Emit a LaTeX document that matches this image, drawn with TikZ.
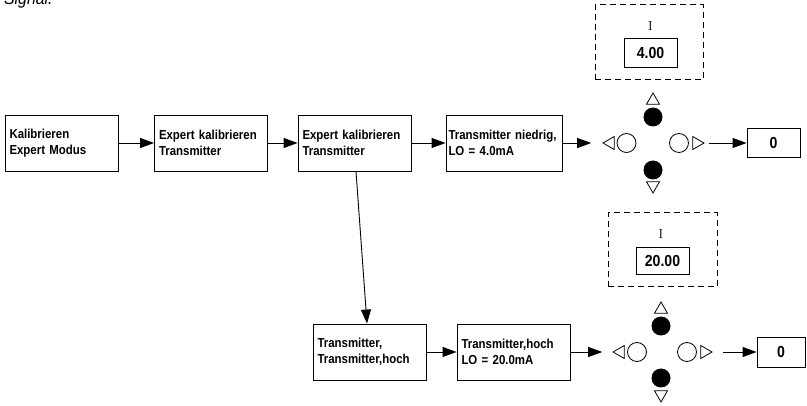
\documentclass[tikz,border=0pt]{standalone}
\usepackage{fontspec}
\newfontfamily\cond[FakeStretch=0.88]{Liberation Sans}
\usetikzlibrary{arrows.meta,shapes.geometric,calc}
\begin{document}
\begin{tikzpicture}[x=1pt,y=-1pt,
  line width=0.9pt,
  stepbox/.style={draw, line width=0.9pt, minimum height=56pt, inner xsep=4.5pt, inner ysep=0pt,
    text width=104pt, align=left, font=\cond\bfseries\fontsize{13}{16}\selectfont},
  valbox/.style={draw, line width=0.9pt, inner sep=0pt, font=\cond\bfseries\fontsize{16}{16}\selectfont},
  dashbox/.style={draw, line width=1pt, dash pattern=on 6pt off 4pt, inner sep=0pt},
  symb/.style={inner sep=0pt, font=\rmfamily\fontsize{13}{13}\selectfont},
  dot/.style={circle, fill=black, minimum size=19pt, inner sep=0pt},
  ring/.style={circle, draw, line width=0.8pt, minimum size=19pt, inner sep=0pt},
  tri/.style={regular polygon, regular polygon sides=3, draw, line width=0.8pt, minimum size=15pt, inner sep=0pt},
  arr/.style={-{Triangle[length=14pt,width=10pt]}, line width=0.9pt}]
\useasboundingbox (0,0) rectangle (807,406);

% caption fragment at the top edge
\node[font=\cond\itshape\fontsize{18}{18}\selectfont, anchor=base east, inner sep=0pt] (sig) at (53,4.5) {Signal.};

% upper row of steps
\node[stepbox] (b1) at (61.5,143) {Kalibrieren\\Expert Modus};
\node[stepbox] (b2) at (211,143) {Expert kalibrieren\\Transmitter};
\node[stepbox] (b3) at (354.5,143) {Expert kalibrieren\\Transmitter};
\node[stepbox, text width=111pt, inner xsep=2.5pt] (b4) at (504,143) {Transmitter niedrig,\\LO = 4.0mA};

% lower row of steps
\node[stepbox] (b5) at (369.5,352) {Transmitter,\\Transmitter,hoch};
\node[stepbox] (b6) at (513.5,352) {Transmitter,hoch\\LO = 20.0mA};

% display for the low value
\node[dashbox, minimum width=108pt, minimum height=75pt] (d1) at (649,42.5) {};
\node[symb] (d1i) at (650.5,26.5) {I};
\node[valbox, minimum width=53pt, minimum height=29pt] (d1v) at (650.5,52.5) {4.00};

% key pad for the low value
\node[tri, shape border rotate=0] (k1u) at (653,100.5) {};
\node[dot] (k1ud) at (653,117) {};
\node[tri, shape border rotate=90] (k1l) at (610.5,143) {};
\node[ring] (k1lc) at (626.5,143) {};
\node[ring] (k1rc) at (679,143) {};
\node[tri, shape border rotate=270] (k1r) at (696.5,143) {};
\node[dot] (k1dd) at (653,170) {};
\node[tri, shape border rotate=180] (k1d) at (653,185.5) {};
\node[valbox, minimum width=53pt, minimum height=29pt] (z1) at (773.5,143) {0};

% display for the high value
\node[dashbox, minimum width=109pt, minimum height=74pt] (d2) at (662.5,250) {};
\node[symb] (d2i) at (661,234) {I};
\node[valbox, minimum width=53pt, minimum height=27pt] (d2v) at (662.5,260.5) {20.00};

% key pad for the high value
\node[tri, shape border rotate=0] (k2u) at (661,309.5) {};
\node[dot] (k2ud) at (661,326) {};
\node[tri, shape border rotate=90] (k2l) at (620.5,352) {};
\node[ring] (k2lc) at (637,352) {};
\node[ring] (k2rc) at (687,352) {};
\node[tri, shape border rotate=270] (k2r) at (704.5,352) {};
\node[dot] (k2dd) at (661,378) {};
\node[tri, shape border rotate=180] (k2d) at (661,394.5) {};
\node[valbox, minimum width=48pt, minimum height=30pt] (z2) at (781,352) {0};

% connectors
\draw[arr] (b1) -- (b2);
\draw[arr] (b2) -- (b3);
\draw[arr] (b3) -- (b4);
\draw[arr, shorten >=11pt] (b4.east) -- (k1l.west);
\draw[arr, shorten <=4pt] (k1r.east) -- (z1.west);
\draw[arr] ([xshift=1.5pt]b3.south) -- ([xshift=-2.5pt]b5.north);
\draw[arr] (b5) -- (b6);
\draw[arr, shorten >=10pt] (b6.east) -- (k2l.west);
\draw[arr, shorten <=10pt] (k2r.east) -- (z2.west);
\end{tikzpicture}
\end{document}
